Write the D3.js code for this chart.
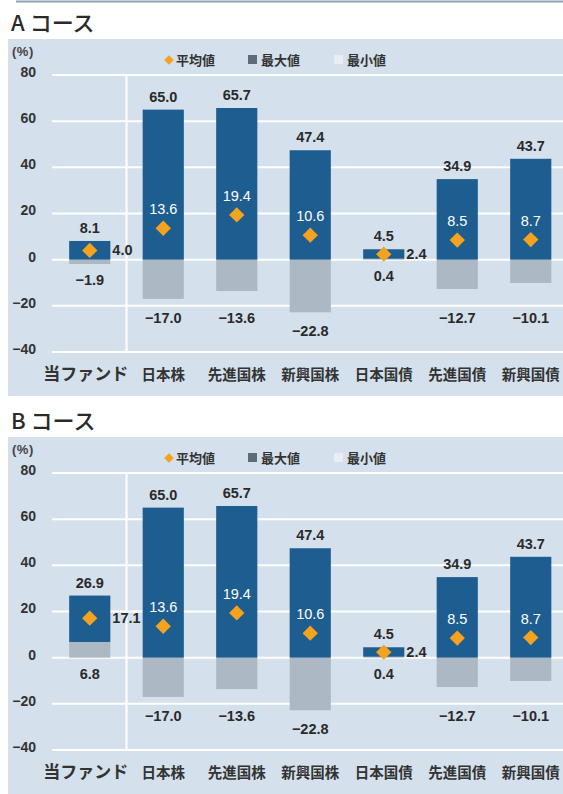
<!DOCTYPE html>
<html>
<head>
<meta charset="utf-8">
<script src="https://cdn.jsdelivr.net/npm/d3@7"></script>
<style>
  body { margin: 0; background: #fff; }
  text { font-family: "Liberation Sans", "Noto Sans CJK JP", sans-serif; }
  .jp { font-family: "Noto Sans CJK JP", sans-serif; }
</style>
</head>
<body>
<svg id="chart"></svg>
<script>
const width = 563;
const height = 794;

// data
const categories = ["当ファンド", "日本株", "先進国株", "新興国株", "日本国債", "先進国債", "新興国債"];
const yTicks = [80, 60, 40, 20, 0, -20, -40];
const courses = ["Aコース", "Bコース"];

const maxA = [8.1, 65.0, 65.7, 47.4, 4.5, 34.9, 43.7];
const minA = [-1.9, -17.0, -13.6, -22.8, 0.4, -12.7, -10.1];
const avgA = [4.0, 13.6, 19.4, 10.6, 2.4, 8.5, 8.7];

const maxB = [26.9, 65.0, 65.7, 47.4, 4.5, 34.9, 43.7];
const minB = [6.8, -17.0, -13.6, -22.8, 0.4, -12.7, -10.1];
const avgB = [17.1, 13.6, 19.4, 10.6, 2.4, 8.5, 8.7];

const legendLabels = ["平均値", "最大値", "最小値"];

const COLORS = {
  panel: "#d4e0ec",
  max: "#1d5d8f",
  min: "#adb8c5",
  avg: "#f5a21e",
  legendMin: "#eaeef3",
  text: "#2a2a2a"
};

const svg = d3.select("#chart").attr("width", width).attr("height", height);

// top rule
svg.append("line")
    .attr("x1", 16).attr("x2", width)
    .attr("y1", 1.5).attr("y2", 1.5)
    .attr("stroke", "#8fa3ba").attr("stroke-width", 2);

const x = d3.scaleBand()
    .domain(categories)
    .range([53, 567.5])
    .paddingInner(0.44)
    .paddingOuter(0.22);

function fmt(v) {
  return v < 0 ? "\u2212" + Math.abs(v).toFixed(1) : v.toFixed(1);
}

function drawPanel(top, title, maxs, mins, avgs) {
  const g = svg.append("g");
  const data = categories.map((c, i) => ({ cat: c, max: maxs[i], min: mins[i], avg: avgs[i] }));

  const y = d3.scaleLinear()
      .domain([-40, 80])
      .range([top + 313, top + 36]);

  g.append("text")
      .attr("class", "jp")
      .attr("x", 11).attr("y", top - 8)
      .attr("font-size", 22).attr("font-weight", 500)
      .attr("fill", COLORS.text)
      .text(title.replace(/^([AB])/, "$1 "));

  g.append("rect")
      .attr("x", 8).attr("y", top)
      .attr("width", width - 8).attr("height", 357)
      .attr("fill", COLORS.panel);

  g.append("text")
      .attr("x", 12).attr("y", top + 17)
      .attr("font-size", 13).attr("font-weight", 700)
      .attr("letter-spacing", 0.5)
      .attr("fill", "#444")
      .text("(%)");

  // gridlines
  g.selectAll("line.grid")
    .data(yTicks)
    .join("line")
      .attr("class", "grid")
      .attr("x1", 52).attr("x2", width)
      .attr("y1", d => y(d)).attr("y2", d => y(d))
      .attr("stroke", "#fff").attr("stroke-width", 2);

  // separator after the fund
  const sepX = x(categories[0]) + x.bandwidth() + x.step() * x.paddingInner() / 2;
  g.append("line")
      .attr("x1", sepX).attr("x2", sepX)
      .attr("y1", y(80)).attr("y2", y(-40))
      .attr("stroke", "#fff").attr("stroke-width", 2);

  // y axis
  const axis = g.append("g")
      .attr("transform", "translate(39,0)")
      .call(d3.axisLeft(y).tickValues(yTicks).tickSize(0).tickFormat(d => d < 0 ? "\u2212" + Math.abs(d) : d));
  axis.select(".domain").remove();
  axis.selectAll("text")
      .attr("font-family", "Liberation Sans, sans-serif")
      .attr("font-size", 14).attr("font-weight", 700)
      .attr("dy", "0.1em")
      .attr("fill", "#333");

  // legend
  const lg = g.append("g").attr("transform", `translate(0,${top + 21})`);
  lg.append("path")
      .attr("d", d3.symbol(d3.symbolDiamond2, 60)())
      .attr("transform", "translate(169,0)")
      .attr("fill", COLORS.avg);
  lg.append("rect").attr("x", 248).attr("y", -5).attr("width", 9).attr("height", 9).attr("fill", "#5e6c7a");
  lg.append("rect").attr("x", 334).attr("y", -5).attr("width", 9).attr("height", 9).attr("fill", COLORS.legendMin);
  lg.selectAll("text.lg")
    .data(legendLabels)
    .join("text")
      .attr("class", "lg jp")
      .attr("x", (d, i) => [176, 261, 347][i])
      .attr("y", 5)
      .attr("font-size", 13).attr("font-weight", 700)
      .attr("fill", "#333")
      .text(d => d);

  // min bars (0 -> min)
  g.selectAll("rect.min")
    .data(data)
    .join("rect")
      .attr("class", "min")
      .attr("x", d => x(d.cat))
      .attr("width", x.bandwidth())
      .attr("y", d => y(Math.max(0, d.min)))
      .attr("height", d => Math.abs(y(d.min) - y(0)))
      .attr("fill", COLORS.min);

  // max bars (max(0,min) -> max)
  g.selectAll("rect.max")
    .data(data)
    .join("rect")
      .attr("class", "max")
      .attr("x", d => x(d.cat))
      .attr("width", x.bandwidth())
      .attr("y", d => y(d.max))
      .attr("height", d => y(Math.max(0, d.min)) - y(d.max))
      .attr("fill", COLORS.max);

  // average diamonds
  g.selectAll("path.avg")
    .data(data)
    .join("path")
      .attr("class", "avg")
      .attr("d", d3.symbol(d3.symbolDiamond2, 150)())
      .attr("transform", d => `translate(${x(d.cat) + x.bandwidth() / 2},${y(d.avg)})`)
      .attr("fill", COLORS.avg);

  // max labels
  g.selectAll("text.maxl")
    .data(data)
    .join("text")
      .attr("class", "maxl")
      .attr("x", d => x(d.cat) + x.bandwidth() / 2)
      .attr("y", d => y(d.max) - 8)
      .attr("text-anchor", "middle")
      .attr("font-size", 14.5).attr("font-weight", 700)
      .attr("fill", COLORS.text)
      .text(d => fmt(d.max));

  // min labels
  g.selectAll("text.minl")
    .data(data)
    .join("text")
      .attr("class", "minl")
      .attr("x", d => x(d.cat) + x.bandwidth() / 2)
      .attr("y", d => d.min > -5
          ? y(Math.min(0, d.min)) + 21
          : Math.max(y(d.min), y(-17)) + 24)
      .attr("text-anchor", "middle")
      .attr("font-size", 14.5).attr("font-weight", 700)
      .attr("fill", COLORS.text)
      .text(d => fmt(d.min));

  // average labels: inside the bar when there is room, else to the right
  const inside = d => y(d.avg) - y(d.max) > 28;
  g.selectAll("text.avgl")
    .data(data)
    .join("text")
      .attr("class", "avgl")
      .attr("x", d => inside(d) ? x(d.cat) + x.bandwidth() / 2 : x(d.cat) + x.bandwidth() + 2)
      .attr("y", d => inside(d) ? y(d.avg) - 14 : y(d.avg) + 5)
      .attr("text-anchor", d => inside(d) ? "middle" : "start")
      .attr("font-size", 14.5)
      .attr("font-weight", d => inside(d) ? 400 : 700)
      .attr("fill", d => inside(d) ? "#fff" : COLORS.text)
      .text(d => fmt(d.avg));

  // category labels
  g.selectAll("text.cat")
    .data(data)
    .join("text")
      .attr("class", "cat jp")
      .attr("x", (d, i) => x(d.cat) + x.bandwidth() / 2 - (i === 0 ? 4 : 0))
      .attr("y", y(-40) + 28)
      .attr("text-anchor", "middle")
      .attr("font-size", (d, i) => i === 0 ? 17 : 14.5)
      .attr("font-weight", 700)
      .attr("fill", "#333")
      .text(d => d.cat);
}

drawPanel(39, courses[0], maxA, minA, avgA);
drawPanel(437, courses[1], maxB, minB, avgB);
</script>
</body>
</html>
